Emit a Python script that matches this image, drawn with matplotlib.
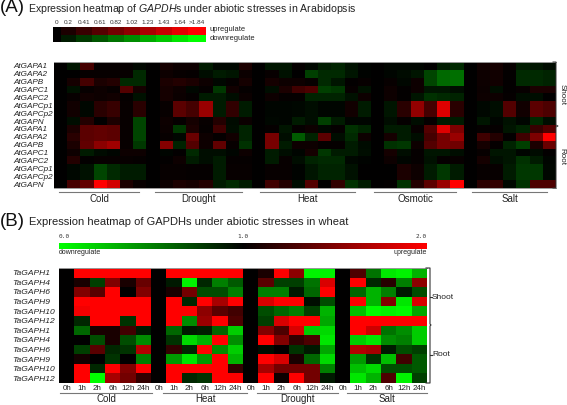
import numpy as np
import matplotlib
matplotlib.use("Agg")
import matplotlib.pyplot as plt
from matplotlib.colors import LinearSegmentedColormap, Normalize
from matplotlib.cm import ScalarMappable

plt.rcParams['font.family'] = ['Liberation Sans', 'DejaVu Sans']
plt.rcParams['mathtext.fontset'] = 'custom'
plt.rcParams['mathtext.it'] = 'Liberation Sans:italic'
plt.rcParams['mathtext.rm'] = 'Liberation Sans'

W, H = 567, 405

at_genes = ["AtGAPA1", "AtGAPA2", "AtGAPB", "AtGAPC1", "AtGAPC2", "AtGAPCp1", "AtGAPCp2", "AtGAPN"] * 2
ta_genes = ["TaGAPH1", "TaGAPH4", "TaGAPH6", "TaGAPH9", "TaGAPH10", "TaGAPH12"] * 2
ta_times = ["0h", "1h", "2h", "6h", "12h", "24h"] * 4

# panel A, signed expression level, one row per gene (0h column added below)
at_cold = [
    [-.15, .5, .03, .03, .03, -.05],
    [0, .05, .05, .05, .05, -.3],
    [.15, .5, .2, .25, -.3, -.3],
    [-.12, .05, .1, .05, .6, .15],
    [.05, .12, .1, .12, .03, -.12],
    [.12, -.05, .3, .4, .05, .3],
    [.12, -.05, .3, .4, .05, .3],
    [-.1, .25, 0, .2, .05, -.5],
    [.2, .65, .7, .65, .05, -.5],
    [.3, .65, .7, .65, .05, -.5],
    [.2, .7, 1.0, 1.15, .05, -.4],
    [.1, -.2, -.08, -.03, .1, .1],
    [.25, .02, .05, .05, .05, .03],
    [-.05, -.12, -.5, -.3, -.2, -.2],
    [-.05, -.12, -.5, -.3, -.2, -.2],
    [.5, .7, 1.84, 1.5, .2, .05],
]
at_drought = [
    [.15, .1, .1, -.2, -.05, -.05, .2],
    [.1, .05, .03, -.1, -.2, -.15, .08],
    [.2, .25, .2, .1, -.05, .03, .15],
    [.15, .1, -.05, .03, -.4, .12, .03],
    [.15, .08, .03, -.2, -.2, -.1, .08],
    [.05, .65, .5, 1.1, -.2, .35, -.2],
    [.05, .65, .5, 1.1, -.2, .35, -.2],
    [.1, .03, .15, .05, .25, -.08, .08],
    [.08, -.4, .2, .03, .45, -.1, -.25],
    [.05, -.05, .75, .1, .03, .12, -.25],
    [.95, -.25, .6, .1, .7, .05, -.35],
    [-.03, .02, -.3, -.1, -.1, -.03, .1],
    [.02, .1, -.2, -.1, -.2, .03, .03],
    [.05, .05, .03, .03, -.2, .05, .05],
    [.05, .05, .03, .03, -.2, .05, .05],
    [.1, .2, .15, .25, -.2, -.3, -.2],
]
at_heat = [
    [-.15, -.15, .03, -.05, -.2, -.25, -.12, -.02],
    [.05, -.12, 0, -.45, -.3, -.3, -.15, -.02],
    [.15, .1, .1, .05, -.3, -.15, .02, .05],
    [-.1, .2, .45, .55, -.45, -.4, .05, -.12],
    [.1, .03, .03, -.25, -.25, -.25, -.12, .1],
    [-.03, -.03, -.05, -.1, -.03, -.03, .12, -.2],
    [-.03, -.03, -.05, -.1, -.03, -.03, .12, -.2],
    [-.05, -.03, -.2, -.1, -.45, -.2, -.03, -.03],
    [.03, -.15, .03, .1, -.05, .03, -.35, -.25],
    [.85, -.1, -.65, -.25, .65, -.1, -.3, .1],
    [.85, -.2, .1, .1, .03, .03, -.2, -.08],
    [-.2, -.1, -.03, .15, -.4, -.2, -.2, -.1],
    [-.2, .05, -.1, -.25, -.3, -.3, -.05, -.02],
    [.05, .05, -.02, -.15, -.25, -.25, -.12, 0],
    [.05, .05, -.02, -.15, -.25, -.25, -.12, 0],
    [.45, .25, -.1, .6, 0, .35, -.35, -.2],
]
at_osmotic = [
    [-.03, -.03, -.03, 0, -.2, -.3],
    [-.03, -.08, -.15, -.5, -.75, -.8],
    [.05, -.05, .1, -.5, -.75, -.8],
    [.1, .02, .1, -.15, -.15, -.1],
    [.1, .02, -.15, -.35, -.3, -.25],
    [-.15, .3, 1.05, .5, 1.6, .3],
    [-.15, .3, 1.05, .5, 1.6, .3],
    [-.1, .03, -.1, .03, -.2, -.2],
    [-.2, -.2, .05, .6, 1.6, .9],
    [.15, -.2, -.1, .5, .85, 1.1],
    [-.35, -.4, .1, .6, .85, .8],
    [.15, -.1, .03, -.15, -.15, -.1],
    [.1, -.03, .03, -.12, .03, .05],
    [0, .2, .1, -.2, -.4, -.2],
    [0, .2, .1, -.2, -.4, -.2],
    [.02, -.35, .25, .65, 1.1, 1.84],
]
at_salt = [
    [.12, .15, .05, -.2, -.15, -.08],
    [.1, .12, .02, -.3, -.3, -.25],
    [.1, .12, .02, -.3, -.3, -.25],
    [.08, -.1, .02, .05, .2, .2],
    [.1, .1, .03, -.1, -.1, 0],
    [-.05, -.1, .6, .12, .65, .55],
    [-.05, -.1, .6, .12, .65, .55],
    [-.15, -.03, -.12, -.03, -.3, -.1],
    [.03, .03, -.15, -.25, .4, .6],
    [.45, .25, .02, .45, .9, 1.84],
    [.15, .03, -.25, -.45, .2, .75],
    [.05, -.15, -.15, -.03, -.08, .02],
    [.15, -.1, -.15, -.35, -.2, -.03],
    [.05, .05, -.2, -.4, -.4, -.05],
    [.05, .05, -.2, -.4, -.4, -.05],
    [.3, .35, -.05, -.35, .55, .55],
]
at_levels = [0, .2, .41, .61, .82, 1.02, 1.23, 1.43, 1.64, 1.84]
at_level_labels = ["0", "0.2", "0.41", "0.61", "0.82", "1.02", "1.23", "1.43", "1.64", ">1.84"]

# panel B, 1.0 is no change
ta_cold = [
    [2, 2, 2, 2, 2],
    [1.1, .75, 1.5, 1.1, 1.4],
    [1.5, 1.35, 2, 1.0, 1.5],
    [2, 2, 2, 2, 2],
    [1.95, 2, 2, 2, 2],
    [.85, 2, 2, .8, 2],
    [.6, 1.1, 1.1, 1.25, .9],
    [1.0, .7, 1.1, .7, .45],
    [.75, 1.35, .85, .8, 1.7],
    [1.08, 1.0, .8, 1.0, .5],
    [2, .85, 2, 1.5, 2],
    [2, 0, 1.65, 1.45, 1.2],
]
ta_heat = [
    [2, 2, 2, 2, 2],
    [.9, .05, .85, .5, .65],
    [1.1, 1.45, .7, .7, .5],
    [2, .85, 2, 1.65, 2],
    [2, 2, 1.55, 1.35, 1.25],
    [2, .45, 1.6, 2, 1.3],
    [.6, .9, .88, .6, .2],
    [.8, .15, .3, 2, .45],
    [1.2, .85, 2, .45, .2],
    [.4, .1, .4, 2, .3],
    [2, 2, 2, 2, 1.2],
    [2, .85, .8, 2, 2],
]
ta_drought = [
    [1.1, 2, 1.55, .05, .05],
    [1.35, .75, .75, .55, 1.85],
    [.5, .5, .9, .6, 2],
    [1.85, 2, 2, .95, .7],
    [.7, .6, .5, .75, .3],
    [.75, 1.85, 2, 2, .35],
    [1.5, 1.3, 1.85, .2, .15],
    [2, 1.5, 1.2, 1.3, .1],
    [.95, 1.0, .8, .9, .35],
    [2, 1.85, 1.1, .6, .15],
    [1.65, 1.45, 1.45, 1.45, .5],
    [2, 1.05, 2, 1.45, .9],
]
ta_salt = [
    [1.3, .55, .1, .05, .3],
    [2, .85, 1.15, .5, 1.55],
    [.6, .3, .5, .9, .7],
    [2, .3, 1.5, .1, 1.85],
    [.25, .02, .05, .02, .35],
    [2, 2, 2, 2, 2],
    [2, 1.8, .55, .45, .2],
    [.2, .1, .45, .5, .2],
    [1.7, 1.65, .9, .7, .75],
    [.4, .8, .25, 1.25, .65],
    [.25, .15, .7, .7, .65],
    [.1, .3, 1.3, .05, .75],
]

cmap = LinearSegmentedColormap.from_list("rg", ["#00ff00", "#000000", "#ff0000"])
norm_a = Normalize(-1.84, 1.84)
norm_b = Normalize(0, 2)


def px_axes(fig, x0, y0, x1, y1):
    return fig.add_axes([x0 / W, 1 - y1 / H, (x1 - x0) / W, (y1 - y0) / H])


def with_baseline(groups, base):
    # every stress starts with a flat 0h column
    cols = []
    for g in groups:
        g = np.array(g, dtype=float)
        cols.append(np.full((g.shape[0], 1), base))
        cols.append(g)
    return np.hstack(cols)


fig = plt.figure(figsize=(W / 100, H / 100), dpi=100)

# panel A heatmap
ax_a = px_axes(fig, 54, 62, 556, 188)
ax_a.pcolormesh(with_baseline([at_cold, at_drought, at_heat, at_osmotic, at_salt], 0.0), cmap=cmap, norm=norm_a)
ax_a.invert_yaxis()
ax_a.set_xticks([])
ax_a.set_yticks(np.arange(16) + .5, at_genes, fontsize=5.9, style='italic', color='#222222', ha='left')
ax_a.tick_params(axis='y', length=0, pad=29.5)
for s in ax_a.spines.values():
    s.set_visible(False)

# panel A legend
ax_la = px_axes(fig, 53, 27, 206, 42)
edges = [0, 7.5, 23, 39, 55, 71, 87, 103, 119, 135, 153]
ax_la.pcolormesh(edges, [0, 1, 2], np.array([at_levels, -np.array(at_levels)]), cmap=cmap, norm=norm_a)
ax_la.invert_yaxis()
ax_la.set_xticks((np.array(edges[:-1]) + np.array(edges[1:])) / 2, at_level_labels, fontsize=4.6, color='#333333')
ax_la.xaxis.tick_top()
ax_la.tick_params(axis='x', length=0, pad=1.5)
ax_la.set_yticks([])
for s in ax_la.spines.values():
    s.set_visible(False)

# panel B heatmap
ax_b = px_axes(fig, 59, 268, 427, 383)
ax_b.pcolormesh(with_baseline([ta_cold, ta_heat, ta_drought, ta_salt], 1.0), cmap=cmap, norm=norm_b)
ax_b.invert_yaxis()
ax_b.set_xticks(np.arange(24) + .5, ta_times, fontsize=5.8, color='#222222')
ax_b.set_yticks(np.arange(12) + .5, ta_genes, fontsize=6.1, style='italic', color='#222222', ha='left')
ax_b.tick_params(axis='x', length=0, pad=1.5)
ax_b.tick_params(axis='y', length=0, pad=33.5)
for s in ax_b.spines.values():
    s.set_visible(False)

# panel B colour bar
ax_lb = px_axes(fig, 59, 243, 427, 248.5)
cb = fig.colorbar(ScalarMappable(norm=norm_b, cmap=cmap), cax=ax_lb, orientation='horizontal')
cb.outline.set_visible(False)
cb.set_ticks([])

# overlay in pixel coordinates for titles, rules and brackets
ov = fig.add_axes([0, 0, 1, 1])
ov.set_xlim(0, W)
ov.set_ylim(H, 0)
ov.axis('off')
ov.patch.set_alpha(0)

txt = '#222222'
ov.text(0, 7.5, "(A)", fontsize=13.5, va='center', color='#111111')
ov.text(28, 8.5, r"Expression heatmap of $\mathit{GAPDH}$s under abiotic stresses in Arabidopsis",
        fontsize=7.6, va='center', color=txt)

ov.text(210, 29.5, "upregulate", fontsize=5.4, va='center', color=txt)
ov.text(210, 38.5, "downregulate", fontsize=5.4, va='center', color=txt)

groups_a = [("Cold", 59, 139), ("Drought", 155, 242), ("Heat", 260, 355), ("Osmotic", 374, 456), ("Salt", 472, 547)]
for name, x0, x1 in groups_a:
    ov.plot([x0, x1], [192, 192], color='#777777', lw=.8)
    ov.text((x0 + x1) / 2, 199.5, name, fontsize=7, ha='center', va='center', color=txt)

ov.plot([54, 556], [62, 62], color='#999999', lw=.7)
ov.plot([54, 556], [188, 188], color='#999999', lw=.7)
ov.plot([553, 556, 556, 558, 556, 556, 553], [62, 62, 125, 126, 127, 188, 188], color='#333333', lw=.7)
ov.text(562, 94, "Shoot", fontsize=5.8, rotation=-90, ha='center', va='center', color=txt)
ov.text(562, 157, "Root", fontsize=5.8, rotation=-90, ha='center', va='center', color=txt)

ov.text(0, 221, "(B)", fontsize=13.5, va='center', color='#111111')
ov.text(29, 222, "Expression heatmap of GAPDHs under abiotic stresses in wheat", fontsize=8, va='center', color=txt)
for x, s, ha in [(59, "0.0", 'left'), (243, "1.0", 'center'), (427, "2.0", 'right')]:
    ov.text(x, 236.5, s, fontsize=4.4, family='DejaVu Sans Mono', ha=ha, va='center', color='#333333')
ov.text(59, 253, "downregulate", fontsize=5, va='center', color=txt)
ov.text(427, 253, "upregulate", fontsize=5, ha='right', va='center', color=txt)

groups_b = [("Cold", 60, 152), ("Heat", 163, 247), ("Drought", 257, 338), ("Salt", 347, 427)]
for name, x0, x1 in groups_b:
    ov.plot([x0, x1], [393, 393], color='#777777', lw=.8)
    ov.text((x0 + x1) / 2, 399, name, fontsize=7, ha='center', va='center', color=txt)

ov.plot([59, 427], [268, 268], color='#999999', lw=.7)
ov.plot([426, 430, 430, 431, 430, 430, 426], [268, 268, 324, 325, 326, 383, 383], color='#333333', lw=.8)
ov.plot([430, 432], [297, 297], color='#333333', lw=.8)
ov.plot([430, 432], [355, 355], color='#333333', lw=.8)
ov.text(432, 297.5, "Shoot", fontsize=6, va='center', color=txt)
ov.text(432, 355, "Root", fontsize=6, va='center', color=txt)

fig.savefig("out.png", dpi=100)
